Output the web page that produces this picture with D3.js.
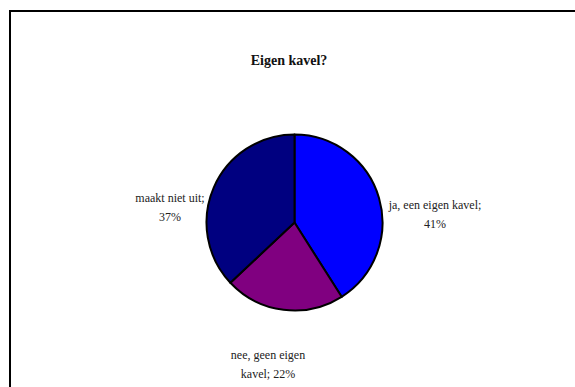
<!DOCTYPE html>
<html lang="nl">
<head>
<meta charset="UTF-8">
<title>Eigen kavel?</title>
<script src="https://d3js.org/d3.v7.min.js"></script>
<style>
    body { margin: 0; background: #fff; }
    text { font-family: "Liberation Serif", "Times New Roman", serif; fill: #222; }
    .title { font-size: 14px; font-weight: bold; fill: #111; }
    .lbl { font-size: 12px; }
</style>
</head>
<body>
<script>
    // data
    var categories = ["ja, een eigen kavel", "nee, geen eigen kavel", "maakt niet uit"];
    var values = [41, 22, 37];
    var colors = ["#0000FF", "#800080", "#000080"];

    // layout for the data labels (anchor point, wrap width)
    var labelAnchors = [[435, 209], [268, 359], [170, 202]];
    var wrapWidths = [100, 85, 80];

    var width = 575, height = 387;
    var cx = 294.5, cy = 222.5, r = 88;

    var svg = d3.select("body").append("svg")
        .attr("width", width).attr("height", height);

    // chart border (runs off the right and bottom edge)
    svg.append("rect")
        .attr("x", 10).attr("y", 11)
        .attr("width", 600).attr("height", 420)
        .attr("fill", "#fff")
        .attr("stroke", "#000")
        .attr("stroke-width", 2);

    svg.append("text").attr("class", "title")
        .attr("x", 289).attr("y", 65)
        .attr("text-anchor", "middle")
        .text("Eigen kavel?");

    var data = categories.map(function(c, i) {
        return { name: c, value: values[i], color: colors[i] };
    });

    var pie = d3.pie().sort(null).value(function(d) { return d.value; });
    var arc = d3.arc().innerRadius(0).outerRadius(r);

    var g = svg.append("g").attr("transform", "translate(" + cx + "," + cy + ")");
    g.selectAll("path")
        .data(pie(data))
        .enter().append("path")
        .attr("d", arc)
        .attr("fill", function(d) { return d.data.color; })
        .attr("stroke", "#000")
        .attr("stroke-width", 2)
        .attr("stroke-linejoin", "round");

    // labels: "name; value%", wrapped to a max width
    data.forEach(function(d, i) {
        var words = (d.name + "; " + d.value + "%").split(" ");
        var t = svg.append("text").attr("class", "lbl")
            .attr("text-anchor", "middle");
        var lines = [], cur = "";
        words.forEach(function(w) {
            var test = cur ? cur + " " + w : w;
            t.text(test);
            if (cur && t.node().getComputedTextLength() > wrapWidths[i]) {
                lines.push(cur);
                cur = w;
            } else {
                cur = test;
            }
        });
        lines.push(cur);
        t.text(null);
        lines.forEach(function(line, k) {
            t.append("tspan")
                .attr("x", labelAnchors[i][0])
                .attr("y", labelAnchors[i][1] + k * 19)
                .text(line);
        });
    });
</script>
</body>
</html>
